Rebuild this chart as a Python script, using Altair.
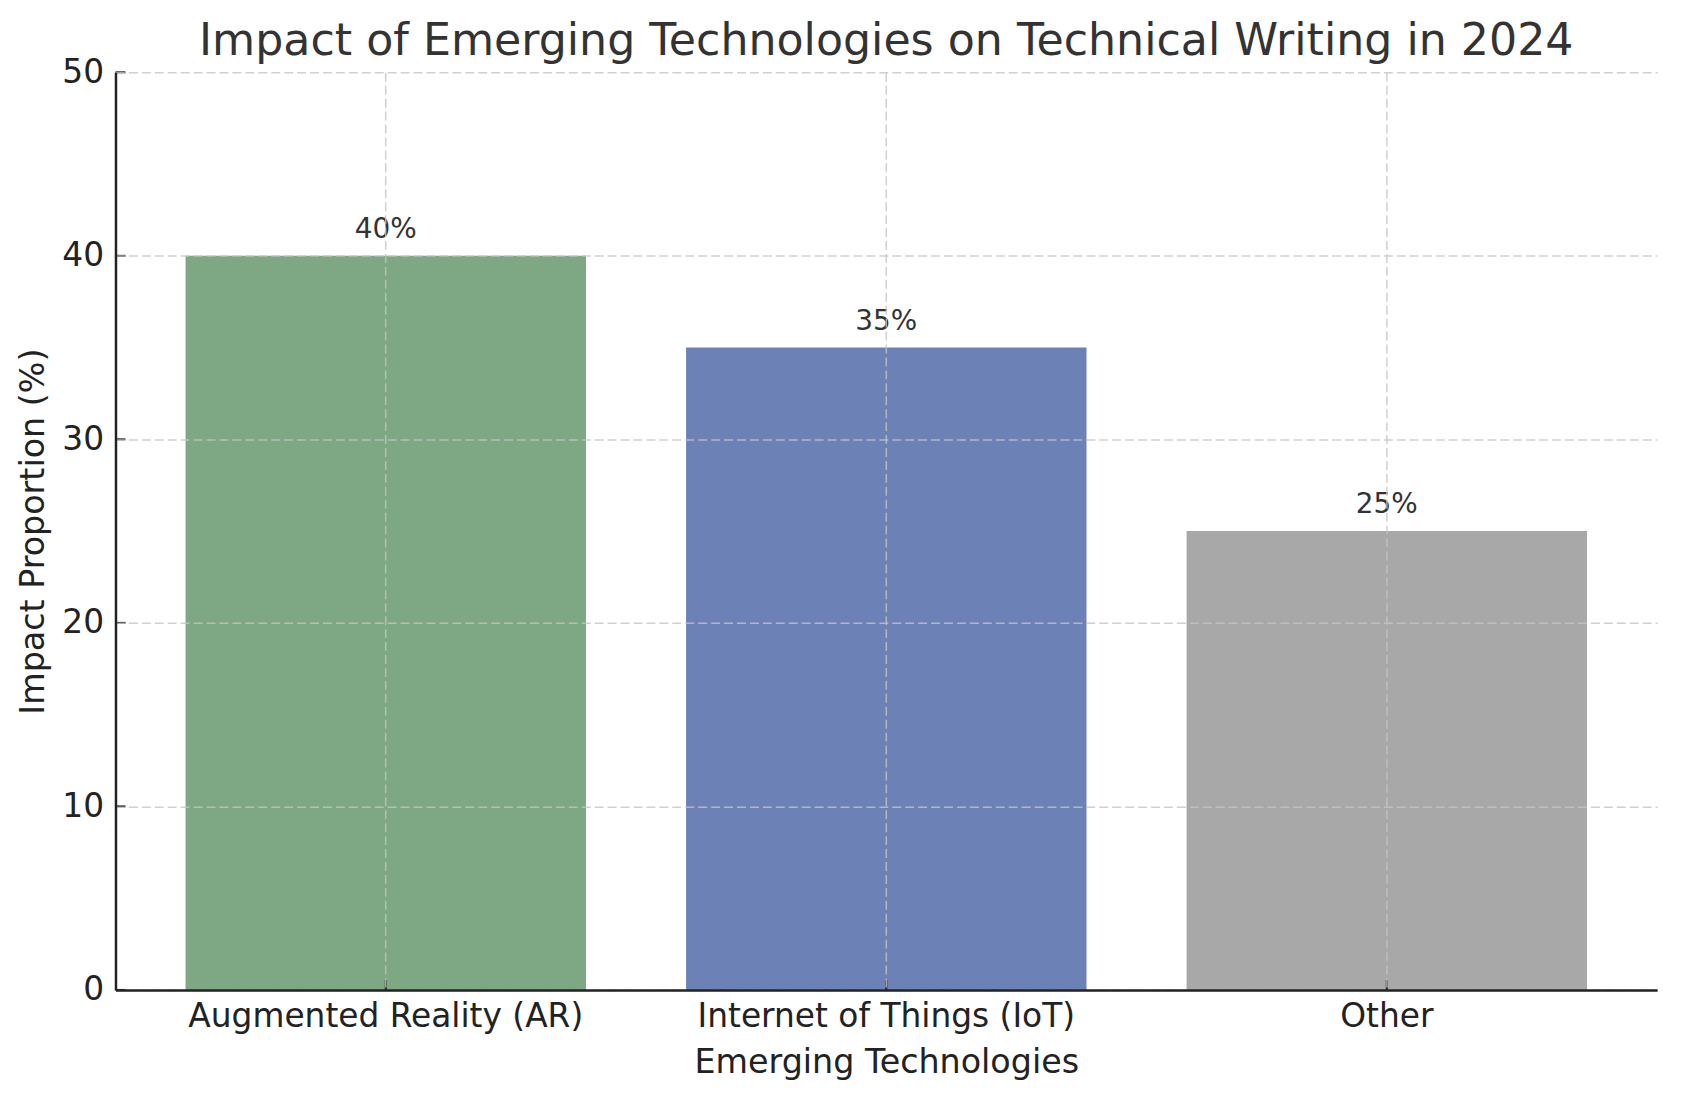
import altair as alt
import pandas as pd

categories = ["Augmented Reality (AR)", "Internet of Things (IoT)", "Other"]
values = [40, 35, 25]
labels = ["40%", "35%", "25%"]
colors = ["#7da883", "#6c81b5", "#a8a8a8"]
y_ticks = [0, 10, 20, 30, 40, 50]

FONT = "DejaVu Sans"
W, H = 1549, 922

df = pd.DataFrame({"tech": categories, "value": values, "label": labels})
tick_df = pd.DataFrame({"value": y_ticks})

x_enc = alt.X(
    "tech:N",
    sort=categories,
    title="Emerging Technologies",
    scale=alt.Scale(paddingInner=0.2, paddingOuter=0.14),
    axis=alt.Axis(
        labelAngle=0,
        ticks=False,
        labelPadding=11,
        titlePadding=13,
        bandPosition=0.5,
        labelLimit=0,
        zindex=1,
    ),
)
y_enc = alt.Y(
    "value:Q",
    title="Impact Proportion (%)",
    scale=alt.Scale(domain=[0, 50], nice=False, zero=True),
    axis=alt.Axis(values=y_ticks, ticks=False, labelPadding=12, titlePadding=11, zindex=1),
)

bars = alt.Chart(df).mark_bar().encode(
    x=x_enc,
    y=y_enc,
    color=alt.Color("tech:N", scale=alt.Scale(domain=categories, range=colors), legend=None),
)

text = alt.Chart(df).mark_text(
    font=FONT, fontSize=28, color="#333333", baseline="alphabetic", dy=-18
).encode(
    x=alt.X("tech:N", sort=categories),
    y=alt.Y("value:Q"),
    text="label:N",
)

yticks = alt.Chart(tick_df).mark_rule(color="#222222", strokeWidth=2).encode(
    y=alt.Y("value:Q"),
    x=alt.value(0),
    x2=alt.value(10),
)

xticks = alt.Chart(df).mark_rule(color="#222222", strokeWidth=2).encode(
    x=alt.X("tech:N", sort=categories),
    y=alt.value(H),
    y2=alt.value(H - 10),
)

chart = (
    alt.layer(bars, yticks, xticks, text)
    .properties(
        width=W,
        height=H,
        padding={"left": 108, "top": 62, "right": 21, "bottom": 109},
        autosize=alt.AutoSizeParams(type="none"),
        title=alt.TitleParams(
            text="Impact of Emerging Technologies on Technical Writing in 2024",
            font=FONT,
            fontSize=44.5,
            fontWeight="normal",
            color="#333333",
            anchor="middle",
            frame="group",
            offset=-8,
        ),
    )
    .configure_view(stroke=None)
    .configure_axis(
        labelFont=FONT,
        titleFont=FONT,
        labelFontSize=33,
        titleFontSize=33.5,
        labelColor="#222222",
        titleColor="#222222",
        titleFontWeight="normal",
        domainColor="#222222",
        domainWidth=2.5,
        grid=True,
        gridColor="#c4c4c4",
        gridOpacity=0.8,
        gridDash=[9, 4],
        gridWidth=1.5,
    )
)

chart.save("out.html", embed_options={"renderer": "svg", "actions": False})
